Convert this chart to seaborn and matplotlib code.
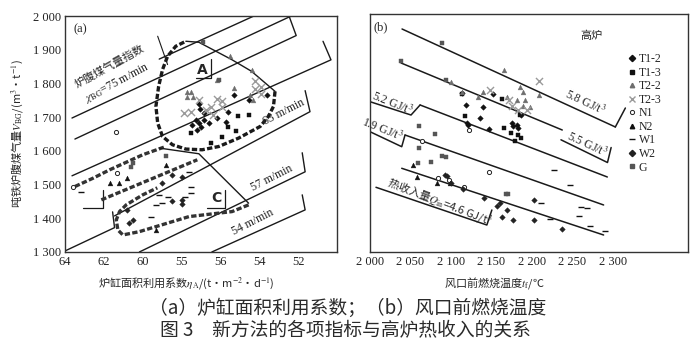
import numpy as np
import pandas as pd
import matplotlib
matplotlib.use("Agg")
import matplotlib.pyplot as plt
from matplotlib.lines import Line2D
import seaborn as sns

sns.set_theme(style="white")
plt.rcParams['font.family'] = ['Liberation Serif', 'Noto Sans CJK SC']
plt.rcParams['mathtext.fontset'] = 'stix'

# ---------------- panel (a) data: eta_A (t/m2/d), V_BG (m3/t) ----------------
a_T12_eta = [57.1, 57.05, 56.85, 56.85, 57.1, 57.26, 57.46, 57.0, 57.2, 56.6, 56.2, 55.7, 55.6, 55.3, 54.55, 53.6]
a_T12_V = [1740, 1725, 1713, 1692, 1683, 1692, 1678, 1672, 1663, 1683, 1698, 1686, 1716, 1767, 1752, 1767]
a_T13_eta = [55.6, 55.1, 54.55, 55.2, 55.9, 56.5, 57.5]
a_T13_V = [1672, 1704, 1707, 1660, 1642, 1624, 1654]
a_T22_eta = [55.5, 54.35, 56.2, 57.7, 57.5, 57.7, 57.4, 55.3, 54.5, 54.3]
a_T22_V = [1880, 1839, 1811, 1776, 1776, 1761, 1761, 1785, 1767, 1752]
a_T23_eta = [54.2, 54.2, 53.9, 53.9, 56.2, 55.9, 56.5, 55.9, 56.75, 56.4, 57.1, 57.9, 57.5]
a_T23_V = [1808, 1782, 1788, 1770, 1755, 1749, 1731, 1731, 1722, 1707, 1752, 1713, 1716]
a_N1_eta = [61.4, 63.6, 61.3]
a_N1_V = [1657, 1493, 1535]
a_N2_eta = [61.7, 61.2, 60.8, 58.8, 59.3]
a_N2_V = [1505, 1505, 1520, 1559, 1365]
a_W1_eta = [57.6, 57.5, 57.5, 59.15, 58.7, 59.0, 59.3, 59.55, 57.8, 63.2]
a_W1_V = [1538, 1493, 1475, 1470, 1464, 1446, 1440, 1404, 1464, 1478]
a_W2_eta = [58.5, 57.97, 59.0, 58.5, 58.0, 57.97, 60.8, 60.5, 60.7]
a_W2_V = [1529, 1523, 1505, 1452, 1455, 1443, 1425, 1395, 1386]
a_G_eta = [56.9, 56.05, 58.8, 60.5, 60.6]
a_G_V = [1922, 1811, 1585, 1565, 1553]

# iso-lines of the bosh gas index (polylines, incl. label ticks)
a_lines_eta = [[59.15, 54.30], [63.64, 52.41], [63.49, 52.10, 52.46], [63.64, 50.31, 50.72],
               [64.0, 61.45, 61.55], [61.45, 51.39, 51.64], [60.17, 51.64, 51.79],
               [56.44, 51.64, 51.79]]
a_lines_V = [[1872.2, 1999.4], [1697.4, 1998.5], [1635.0, 1942.0, 1998.5], [1526.0, 1870.0, 1925.0],
             [1303.1, 1372.3, 1419.0], [1407.1, 1716.2, 1778.6], [1300.1, 1537.9, 1594.3],
             [1300.1, 1424.9, 1469.5]]

# region A outline
A_dash_eta = [53.19, 53.27, 53.53, 53.95, 55.06, 56.08, 56.94, 57.78, 58.47, 58.98, 59.23, 59.32, 59.18, 58.98, 58.72, 58.30, 57.78]
A_dash_V = [1776.5, 1731.9, 1702.2, 1672.5, 1638.0, 1613.0, 1603.2, 1605.3, 1618.1, 1642.8, 1682.6, 1731.9, 1791.4, 1841.0, 1880.5, 1910.2, 1925.1]
A_line_eta = [57.78, 57.11, 55.42, 54.40, 53.19]
A_line_V = [1925.1, 1922.1, 1870.7, 1836.0, 1776.5]
# region B band
B_top_eta = [63.49, 62.55, 61.70, 60.0, 58.81]
B_top_V = [1494.2, 1519.1, 1543.8, 1588.4, 1613.0]
B_mid_eta = [62.13, 59.66, 57.19]
B_mid_V = [1454.6, 1514.1, 1573.5]
# region C outline
C_line_eta = [59.15, 57.11, 54.55]
C_line_V = [1608.3, 1591.4, 1444.8]
C_dash_eta = [54.55, 55.40, 57.62, 60.17, 61.02, 61.28, 61.36, 61.19, 60.85, 60.0, 59.25]
C_dash_V = [1439.8, 1419.9, 1405.0, 1360.4, 1350.6, 1365.5, 1395.2, 1420.1, 1439.8, 1469.5, 1490.3]

# ---------------- panel (b) data: t_f (deg C), V_BG ----------------
b_T12_t = [2151.4, 2118.8, 2139.5, 2136.1, 2186.5, 2119.7, 2121.7, 2175.4, 2177.3, 2181.6, 2183.5, 2147.6, 2113.9]
b_T12_V = [1764.7, 1732.4, 1725.6, 1693.3, 1703.0, 1680.3, 1673.6, 1680.3, 1670.6, 1673.6, 1663.8, 1660.9, 1766.8]
b_T13_t = [2163.7, 2117.6, 2165.0, 2174.5, 2182.3, 2186.9, 2179.4, 2113.5, 2185.6]
b_T13_V = [1749.1, 1700.0, 1663.8, 1649.1, 1644.1, 1634.4, 1627.4, 1764.7, 1703.0]
b_T22_t = [2165.0, 2100.2, 2185.6, 2189.0, 2208.3, 2169.2, 2181.6, 2191.8, 2189.0, 2198.0, 2134.0, 2140.2, 2113.5]
b_T22_V = [1835.3, 1800.9, 1784.4, 1771.5, 1761.8, 1755.0, 1747.1, 1747.1, 1729.4, 1727.4, 1756.8, 1771.5, 1771.5]
b_T23_t = [2208.8, 2148.5, 2175.4, 2183.5, 2193.9, 2171.2]
b_T23_V = [1802.9, 1776.5, 1729.4, 1717.7, 1717.7, 1747.1]
b_N1_t = [2122.9, 2064.0, 2147.3, 2083.8, 2098.1, 2116.3]
b_N1_V = [1658.8, 1627.4, 1536.2, 1518.6, 1511.8, 1490.3]
b_N2_t = [2053.6, 2058.5, 2082.5, 2099.0]
b_N2_V = [1555.9, 1521.5, 1503.9, 1502.1]
b_W1_t = [2226.9, 2246.7, 2211.6, 2260.8, 2268.2, 2257.8, 2271.4, 2290.8, 2221.9]
b_W1_V = [1541.2, 1497.1, 1445.0, 1431.5, 1428.6, 1405.9, 1377.4, 1362.7, 1396.2]
b_W2_t = [2092.8, 2094.9, 2099.9, 2141.5, 2160.9, 2157.5, 2169.2, 2163.7, 2177.3, 2202.1, 2202.1, 2237.2, 2115.5]
b_W2_V = [1526.5, 1524.5, 1502.1, 1457.9, 1445.0, 1435.3, 1423.6, 1402.1, 1394.2, 1453.0, 1394.2, 1366.8, 1484.4]
b_G_t = [2089.5, 2038.4, 2094.1, 2061.0, 2080.4, 2061.0, 2059.8, 2075.5, 2088.7, 2094.1, 2167.9, 2170.4]
b_G_V = [1915.6, 1861.8, 1805.9, 1670.6, 1647.1, 1605.0, 1560.9, 1563.8, 1582.4, 1580.3, 1470.6, 1470.6]

# heat-income iso-lines (main line end points)
b_lines_t0 = [2039.6, 2038.4, 2061.9, 2043.3, 2039.2]
b_lines_V0 = [1955.9, 1855.9, 1732.4, 1644.1, 1546.2]
b_lines_t1 = [2303.2, 2237.6, 2293.3, 2288.7, 2288.7]
b_lines_V1 = [1667.7, 1658.8, 1520.6, 1438.3, 1350.0]
# label brackets
b_br_t = [[2303.2, 2315.6], [2236.0, 2293.5, 2298.0], [2000.0, 2050.7, 2061.9],
          [2000.0, 2039.2, 2043.3], [2007.4, 2144.4, 2150.6]]
b_br_V = [[1667.7, 1723.5], [1630.0, 1563.2, 1607.3], [1742.1, 1702.9, 1732.4],
          [1653.8, 1609.7, 1644.1], [1490.3, 1379.4, 1423.6]]

series_names = ['T1-2', 'T1-3', 'T2-2', 'T2-3', 'N1', 'N2', 'W1', 'W2', 'G']
styles = {
    'T1-2': dict(marker='D', color='#111111', s=8),
    'T1-3': dict(marker='s', color='#111111', s=10),
    'T2-2': dict(marker='^', color='#6e6e6e', s=12),
    'T2-3': dict(marker='x', color='#9a9a9a', s=26),
    'N1': dict(marker='o', color='white', s=9),
    'N2': dict(marker='^', color='#111111', s=12),
    'W1': dict(marker='_', color='#111111', s=24),
    'W2': dict(marker='D', color='#222222', s=8),
    'G': dict(marker='s', color='#555555', s=12),
}

def scatter(ax, x, y, name):
    st = styles[name]
    kw = dict(x=x, y=y, ax=ax, marker=st['marker'], s=st['s'], legend=False, zorder=4)
    if name == 'N1':
        sns.scatterplot(facecolor='white', edgecolor='#222222', linewidth=0.7, **kw)
    elif st['marker'] in ('x', '_'):
        sns.scatterplot(color=st['color'], linewidth=1.0, **kw)
    else:
        sns.scatterplot(color=st['color'], edgecolor=st['color'], linewidth=0.3, **kw)

W, H = 690, 346
fig = plt.figure(figsize=(W / 100, H / 100), dpi=100)
axA = fig.add_axes([65 / W, (H - 252) / H, (337 - 65) / W, (252 - 16) / H])
axB = fig.add_axes([370 / W, (H - 252) / H, (688 - 370) / W, (252 - 14) / H])

LC = '#1a1a1a'
for ax in (axA, axB):
    for sp in ax.spines.values():
        sp.set_color('#333333')
        sp.set_linewidth(1.0)
    ax.tick_params(direction='in', length=4, width=0.8, colors='#333333', labelsize=9,
                   labelcolor='#222222', pad=3)

CJK = 'Noto Sans CJK SC'

# ---- panel (a)
axA.set_xlim(64, 50)
axA.set_ylim(1300, 2000)
axA.set_xticks([64, 62, 60, 58, 56, 54, 52])
axA.set_xticklabels(['64', '62', '60', '55', '56', '54', '52'])
axA.set_yticks([1300, 1400, 1500, 1600, 1700, 1800, 1900, 2000])
axA.set_yticklabels(['1 300', '1 400', '1 500', '1 600', '1 700', '1 800', '1 900', '2 000'])

for ex, vy in zip(a_lines_eta, a_lines_V):
    axA.plot(ex, vy, color=LC, lw=1.0, zorder=2)

DASH = (0, (1.6, 0.7))
axA.plot(A_dash_eta, A_dash_V, color='#1a1a1a', lw=2.4, ls=DASH, zorder=3)
axA.plot(A_line_eta, A_line_V, color=LC, lw=1.0, zorder=3)
axA.plot(B_top_eta, B_top_V, color='#333333', lw=2.4, ls=DASH, zorder=3)
axA.plot(B_mid_eta, B_mid_V, color='#333333', lw=2.4, ls=DASH, zorder=3)
axA.plot(C_line_eta, C_line_V, color=LC, lw=1.0, zorder=3)
axA.plot(C_dash_eta, C_dash_V, color='#333333', lw=2.4, ls=DASH, zorder=3)
axA.plot([59.23, 58.72], [1940, 1856], color=LC, lw=0.8)

axA.plot([56.51, 56.51, 57.27], [1872.8, 1816.3, 1816.3], color=LC, lw=0.9)
axA.text(56.95, 1841, 'A', fontsize=10, fontweight='bold', family='DejaVu Sans', ha='center', va='center')
axA.plot([55.74, 55.74, 56.68], [1484.3, 1430.0, 1430.0], color=LC, lw=0.9)
axA.text(56.21, 1460, 'C', fontsize=10, fontweight='bold', family='DejaVu Sans', ha='center', va='center')
axA.plot([62.04, 62.04, 63.07], [1484.3, 1430.0, 1430.0], color=LC, lw=0.9)

a_series = {'T1-2': (a_T12_eta, a_T12_V), 'T1-3': (a_T13_eta, a_T13_V), 'T2-2': (a_T22_eta, a_T22_V),
            'T2-3': (a_T23_eta, a_T23_V), 'N1': (a_N1_eta, a_N1_V), 'N2': (a_N2_eta, a_N2_V),
            'W1': (a_W1_eta, a_W1_V), 'W2': (a_W2_eta, a_W2_V), 'G': (a_G_eta, a_G_V)}
for name in series_names:
    x, y = a_series[name]
    scatter(axA, x, y, name)

axA.text(0.03, 0.97, '(a)', transform=axA.transAxes, fontsize=9, ha='left', va='top')
axA.text(61.70, 1850.6, '炉腹煤气量指数', fontsize=8, rotation=29, ha='center', va='center', family=CJK)
axA.text(61.36, 1801.5, r'$\chi_{\rm BG}$=75 m/min', fontsize=8.5, rotation=28, ha='center', va='center')
axA.text(52.75, 1716, '63 m/min', fontsize=8.5, rotation=27, ha='center', va='center')
axA.text(53.38, 1520, '57 m/min', fontsize=8.5, rotation=27, ha='center', va='center')
axA.text(54.35, 1389, '54 m/min', fontsize=8.5, rotation=27, ha='center', va='center')
axA.set_xlabel('')
axA.set_ylabel('')

# ---- panel (b)
axB.set_xlim(2000, 2393)
axB.set_ylim(1300, 2000)
axB.set_xticks([2000, 2050, 2100, 2150, 2200, 2250, 2300])
axB.set_xticklabels(['2 000', '2 050', '2 100', '2 150', '2 200', '2 250', '2 300'])
axB.set_yticks([])

for t0, v0, t1, v1 in zip(b_lines_t0, b_lines_V0, b_lines_t1, b_lines_V1):
    axB.plot([t0, t1], [v0, v1], color=LC, lw=1.1, zorder=2)
for bt, bv in zip(b_br_t, b_br_V):
    axB.plot(bt, bv, color=LC, lw=1.1, zorder=2)

b_series = {'T1-2': (b_T12_t, b_T12_V), 'T1-3': (b_T13_t, b_T13_V), 'T2-2': (b_T22_t, b_T22_V),
            'T2-3': (b_T23_t, b_T23_V), 'N1': (b_N1_t, b_N1_V), 'N2': (b_N2_t, b_N2_V),
            'W1': (b_W1_t, b_W1_V), 'W2': (b_W2_t, b_W2_V), 'G': (b_G_t, b_G_V)}
for name in series_names:
    x, y = b_series[name]
    scatter(axB, x, y, name)

axB.text(0.01, 0.97, '(b)', transform=axB.transAxes, fontsize=9, ha='left', va='top')
axB.text(2273.5, 1935.3, '高炉', fontsize=8, ha='center', va='center', family=CJK)
axB.text(2266.1, 1738.3, '5.8 GJ/t$^3$', fontsize=8.5, rotation=-25, ha='center', va='center')
axB.text(2268.2, 1614.7, '5.5 GJ/t$^3$', fontsize=8.5, rotation=-25, ha='center', va='center')
axB.text(2026.9, 1737.4, '5.2 GJ/t$^3$', fontsize=8.5, rotation=-22, ha='center', va='center')
axB.text(2015.2, 1661.8, '1.9 GJ/t$^3$', fontsize=8.5, rotation=-22, ha='center', va='center')
axB.text(2086.6, 1448.0, r'热收入量$Q_{\rm in}$=4.6 GJ/t$^3$', fontsize=8, rotation=-21,
         ha='center', va='center', family=CJK)

handles = []
for name in series_names:
    st = styles[name]
    if name == 'N1':
        h = Line2D([], [], ls='', marker='o', markersize=3.0, markerfacecolor='white',
                   markeredgecolor='#222222', markeredgewidth=0.7)
    elif st['marker'] in ('x', '_'):
        h = Line2D([], [], ls='', marker=st['marker'], markersize=5, color=st['color'], markeredgewidth=1.0)
    else:
        h = Line2D([], [], ls='', marker=st['marker'], markersize=3.2, color=st['color'])
    handles.append(h)
axB.legend(handles, series_names, loc='upper left', bbox_to_anchor=(0.811, 0.835), frameon=False,
           fontsize=8.5, handlelength=0.7, handletextpad=0.2, labelspacing=0.13, borderpad=0,
           borderaxespad=0)
axB.set_xlabel('')
axB.set_ylabel('')

# axis titles
fig.text(186 / W, 1 - 283 / H, r'炉缸面积利用系数$\eta_{\rm A}$/(t·m$^{-2}$·d$^{-1}$)', fontsize=8,
         ha='center', va='center', family=CJK)
fig.text(17 / W, 1 - 134 / H, r'吨铁炉腹煤气量$V_{\rm BG}$/(m$^{3}$·t$^{-1}$)', fontsize=8,
         ha='center', va='center', rotation=90, family=CJK)
fig.text(494 / W, 1 - 283 / H, r'风口前燃烧温度$t_{\rm f}$/℃', fontsize=8, ha='center', va='center',
         family=CJK)

# caption
fig.text(348 / W, 1 - 308 / H, '（a）炉缸面积利用系数；（b）风口前燃烧温度', fontsize=13.5,
         family=CJK, fontweight='light', ha='center', va='center', color='#2a2a2a')
fig.text(345 / W, 1 - 331 / H, '图 3　新方法的各项指标与高炉热收入的关系', fontsize=13.5,
         family=CJK, fontweight='light', ha='center', va='center', color='#2a2a2a')

fig.savefig('out.png', dpi=100, facecolor='white')
